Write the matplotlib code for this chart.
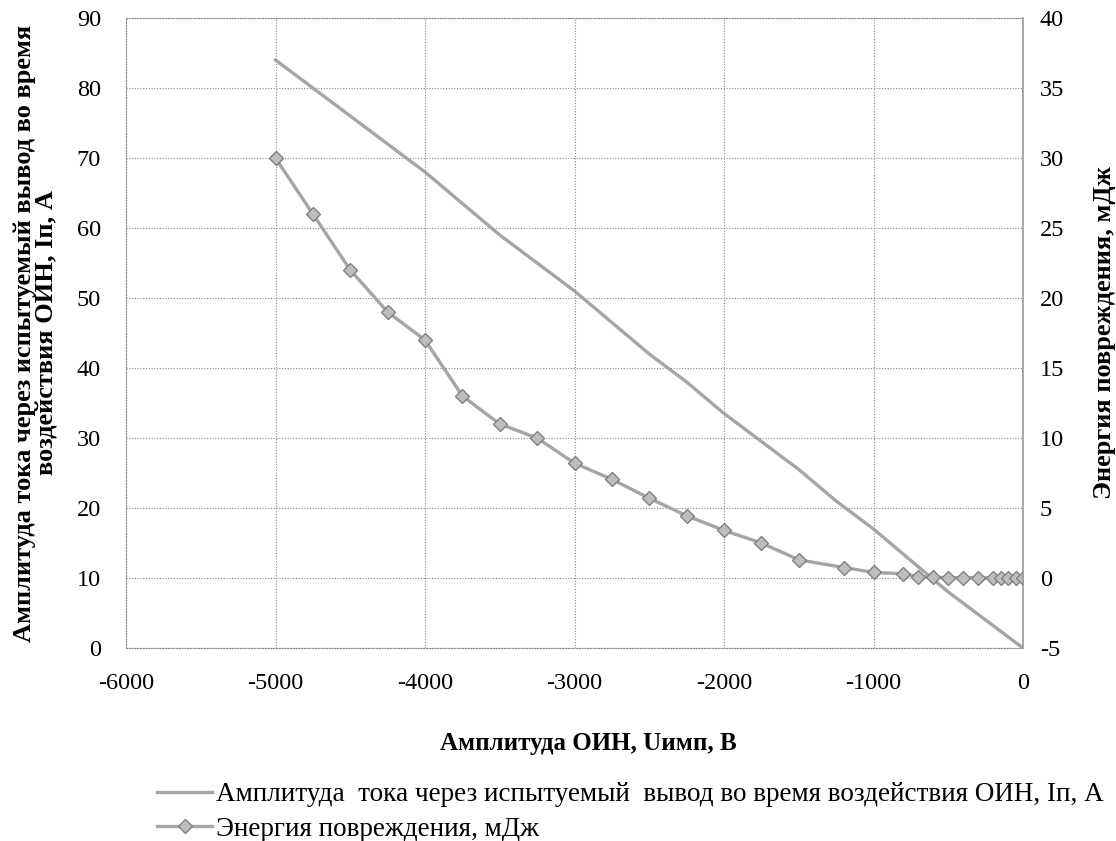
import matplotlib.pyplot as plt
from matplotlib.lines import Line2D

plt.rcParams["font.family"] = ["Liberation Serif", "DejaVu Serif"]
plt.rcParams["axes.unicode_minus"] = False

# current through the tested pin, left axis
u_current = [-5000, -4750, -4500, -4250, -4000, -3750, -3500, -3250, -3000, -2750,
             -2500, -2250, -2000, -1750, -1500, -1250, -1000, -750, -500, -250, 0]
i_current = [84, 80, 76, 72, 68, 63.5, 59, 55, 51, 46.5,
             42, 38, 33.5, 29.5, 25.5, 21, 17, 12.5, 8, 4, 0]

# damage energy, right axis
u_energy = [-5000, -4750, -4500, -4250, -4000, -3750, -3500, -3250, -3000, -2750,
            -2500, -2250, -2000, -1750, -1500, -1200, -1000, -800, -700, -600,
            -500, -400, -300, -200, -150, -100, -50, 0]
e_energy = [30, 26, 22, 19, 17, 13, 11, 10, 8.2, 7.05,
            5.7, 4.45, 3.4, 2.5, 1.3, 0.75, 0.4, 0.3, 0.1, 0.05,
            0.03, 0.02, 0.02, 0.01, 0.01, 0.0, 0.0, 0.0]

label_current = "Амплитуда  тока через испытуемый  вывод во время воздействия ОИН, Iп, А"
label_energy = "Энергия повреждения, мДж"

W, H = 1116, 841
fig = plt.figure(figsize=(W / 100, H / 100), dpi=100)
ax = fig.add_axes([126 / W, 1 - 648 / H, (1023 - 126) / W, (648 - 18) / H])
ax2 = ax.twinx()

line_col = "#a5a5a5"
ax.plot(u_current, i_current, color=line_col, lw=2.4)
ax2.plot(u_energy, e_energy, color=line_col, lw=2.4, marker="D", markersize=7,
         markerfacecolor="#bdbdbd", markeredgecolor="#808080", markeredgewidth=1)

ax.set_xlim(-6000, 0)
ax.set_ylim(0, 90)
ax2.set_ylim(-5, 40)
ax.set_xticks(range(-6000, 1, 1000))
ax.set_yticks(range(0, 91, 10))
ax2.set_yticks(range(-5, 41, 5))

ax.grid(True, color="#888888", ls=(0, (1, 1.5)), lw=0.8)
for name in ("left", "top", "bottom"):
    ax.spines[name].set_linestyle((0, (1, 1.5)))
    ax.spines[name].set_color("#888888")
    ax.spines[name].set_linewidth(0.8)
    ax2.spines[name].set_visible(False)
ax.spines["right"].set_visible(False)
ax2.spines["right"].set_color("#999999")
ax2.spines["right"].set_linewidth(1.2)

ax.tick_params(axis="x", length=0, labelsize=17.5, pad=18)
ax.tick_params(axis="y", length=0, labelsize=17.5, pad=18)
ax2.tick_params(length=0, labelsize=17.5, pad=12)

ax.set_xlabel("Амплитуда ОИН, Uимп, В", fontsize=18, fontweight="bold")
ax.xaxis.set_label_coords(0.515, -0.133)
ax.set_ylabel("Амплитуда тока через испытуемый вывод во время\nвоздействия ОИН, Iп, А",
              fontsize=19, fontweight="bold", labelpad=13, linespacing=1.0)
ax2.set_ylabel("Энергия повреждения, мДж", fontsize=19, fontweight="bold", labelpad=21)

handles = [Line2D([], [], color=line_col, lw=2.4),
           Line2D([], [], color=line_col, lw=2.4, marker="D", markersize=7,
                  markerfacecolor="#bdbdbd", markeredgecolor="#808080")]
fig.legend(handles, [label_current, label_energy], loc="upper left",
           bbox_to_anchor=(152 / W, 1 - 777 / H), frameon=False, fontsize=19.5,
           handlelength=2.0, handletextpad=0.15, labelspacing=0.35,
           borderaxespad=0, borderpad=0.2)

fig.savefig("out.png", dpi=100)
